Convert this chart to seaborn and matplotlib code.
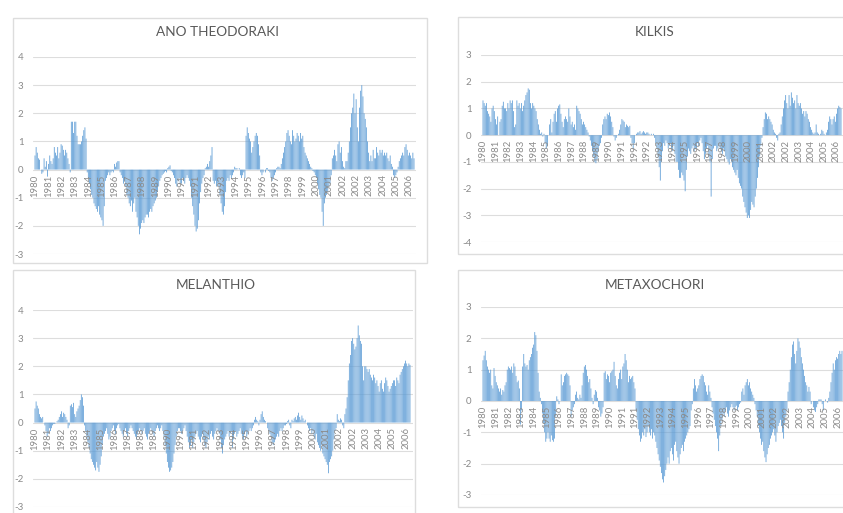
import numpy as np
import pandas as pd
import matplotlib
matplotlib.use("Agg")
import matplotlib.pyplot as plt
import seaborn as sns
from matplotlib.patches import Rectangle

sns.set_theme(style="white")
plt.rcParams["font.family"] = ["Lato", "DejaVu Sans"]
plt.rcParams["axes.unicode_minus"] = False

# Category labels along the zero line (one every ~12 months)
year_labels = ["1980", "1981", "1982", "1983", "1984", "1985", "1986", "1987",
               "1988", "1989", "1990", "1991", "1991", "1992", "1993", "1994",
               "1995", "1996", "1997", "1998", "1999", "2000", "2001", "2002",
               "2002", "2003", "2004", "2005", "2006"]

# Monthly index values per station
ano_theodoraki = [
    0.5, 0.8, 0.6, 0.4, 0.35, 0.0, -0.15, -0.1, 0.4, 0.1, 0.3, -0.25, 0.2, 0.5,
    0.3, 0.2, 0.4, 0.8, 0.6, 0.5, 0.8, 0.4, 0.6, 0.9, 0.85, 0.7, 0.5, 0.7, 0.6, 0.4, 0.2,
    -0.1, 1.7, 1.7, 1.3, 1.7, 1.7, 1.2, 0.9, 0.9, 0.9, 1.0, 1.2, 1.4, 1.5, 1.1,
    -0.1, -0.3, -0.5, -0.7, -0.9, -1.0, -1.2, -1.3, -1.4, -1.5, -1.3, -1.6, -1.7, -1.8, -2.0, -1.3, -0.4,
    -0.3, -0.2, -0.1, -0.2, -0.1, -0.05, -0.1, 0.2, 0.1, 0.25, 0.3, 0.3,
    -0.1, -0.2, -0.3, -0.5, -0.4, -0.6, -0.9, -1.0, -1.2, -1.3, -1.1, -1.5, -1.2, -1.0,
    -1.5, -1.7, -2.0, -2.3, -2.1, -1.9, -1.8, -1.9, -1.7, -1.6, -1.6, -1.7, -1.5, -1.4, -1.5, -1.3, -1.2, -1.1,
    -1.0, -0.8, -0.6, -0.4, -0.3, -0.2, -0.15, -0.1, -0.05, -0.1, 0.05, 0.1, 0.15, -0.05, -0.1, -0.2,
    -0.3, -0.5, -0.6, -0.4, -0.3, -0.5, -0.5, -0.3, -0.4, -0.5, -0.3, -0.2, -0.3, -0.4,
    -0.6, -1.0, -1.3, -1.6, -2.0, -2.2, -2.1, -1.8, -1.2, -0.8, -0.5,
    -0.3, -0.2, 0.05, 0.1, 0.2, 0.1, 0.3, 0.5, 0.8,
    -0.4, -0.5, -0.4, -0.6, -0.5, -0.6, -0.9, -1.2, -1.5, -1.6, -1.3, -0.8, -0.4, -0.3, -0.4, -0.2, -0.3, -0.2, -0.1,
    0.1, 0.05, 0.05, 0.0, 0.05, -0.2, -0.3, -0.2, -0.1, -0.3,
    1.2, 1.5, 1.3, 1.1, 1.0, 0.6, 0.8, 1.0, 1.2, 1.3, 1.2, 0.9, 0.5,
    -0.1, -0.2, -0.1, 0.0, -0.1, 0.05, 0.05, -0.05, -0.1, -0.3, -0.4, -0.3, -0.2, -0.1, 0.05, 0.1, 0.1, 0.05,
    0.2, 0.4, 0.6, 0.8, 1.0, 1.3, 1.4, 1.2, 1.0, 0.9, 1.4, 1.2, 1.0, 1.1, 1.3, 1.2, 1.0, 1.3, 1.1, 1.2,
    0.8, 0.6, 0.5, 0.4, 0.3, 0.2, 0.1, 0.05, -0.05, -0.1,
    -0.2, -0.3, -0.5, -0.7, -0.9, -1.0, -1.5, -2.0, -1.2, -1.0, -0.9, -0.8, -0.6, -0.5, -0.2,
    0.4, 0.5, 0.7, 0.5, 0.3, 0.9, 1.0, 0.6, 0.8, 0.3, 0.1, 0.05, 0.3,
    0.3, 0.6, 1.0, 1.5, 2.0, 2.2, 2.7, 2.0, 2.5, 1.5, 1.0, 2.2, 2.8, 3.0, 2.6, 2.0, 1.8, 1.5, 1.0, 0.6, 0.3,
    0.5, 0.3, 0.7, 0.4, 0.4, 0.8, 0.6, 0.5, 0.7, 0.6, 0.7, 0.5, 0.6, 0.5, 0.6, 0.4, 0.3, 0.5, 0.2, 0.1,
    -0.2, -0.3, -0.2, -0.1,
    0.1, 0.3, 0.4, 0.5, 0.6, 0.5, 0.8, 0.9, 0.7, 0.5, 0.6, 0.5, 0.4, 0.6, 0.4,
]

kilkis = [
    1.3, 1.2, 1.1, 1.2, 0.9, 0.8, 0.7, 0.5, 1.0, 1.1, 0.9, 0.6, 0.4, 0.7,
    0.0, 0.5, 0.6, 1.1, 1.25, 1.0, 1.0, 0.9, 1.2, 1.0, 1.3, 1.2, 1.3, 0.9, 0.3,
    0.4, 1.3, 1.1, 1.2, 1.0, 1.2, 0.9, 1.1, 1.3, 1.5, 1.6, 1.75, 1.7, 1.2,
    1.0, 1.2, 1.1, 1.0, 0.9, 0.6, 0.4, 0.2, 0.05, 0.1, -0.05, 0.05,
    -0.3, -0.5, -0.4, 0.0, 0.4, 0.6, 0.1, 0.5, 0.8, 0.9, 0.5,
    1.0, 1.1, 1.15, 0.8, 0.5, 0.3, 0.6, 0.7, 0.6, 0.5, 1.0, 0.7, 0.4, 0.5, 0.3, 0.4, 0.2,
    1.1, 1.0, 0.9, 0.8, 0.6, 0.4, 0.5, 0.4, 0.3, 0.2, 0.1, -0.05, -0.2,
    -0.4, -0.6, -0.8, -1.0, -1.05, -0.9, -0.6, -0.4, -0.3, -0.1,
    0.4, 0.6, 0.7, 0.6, 0.8, 0.75, 0.85, 0.7, 0.5, 0.3,
    -0.05, -0.2, -0.1, 0.0, 0.05,
    0.2, 0.4, 0.6, 0.55, 0.5, 0.3, 0.4, 0.35, 0.3, 0.35,
    -0.1, -0.3, -0.5, -0.3, 0.0, 0.05, 0.1, 0.1, 0.15, 0.05,
    0.1, 0.15, 0.1, 0.05, 0.1, 0.1, 0.05, 0.0, 0.05, 0.0, 0.05,
    -0.1, -0.3, -0.5, -0.8, -1.2, -1.7, -1.0, -0.6,
    -0.3, -0.4, -0.2, -0.3, -0.5, -0.4, -0.3, -0.5, -0.6, -0.4, -0.7, -1.0,
    -1.0, -1.3, -1.6, -1.6, -1.4, -1.5, -1.7, -2.1, -1.3, -0.8,
    -0.5, -0.6, -0.7, -0.5, -0.4, -0.6, -0.5, -0.5, -0.3, -0.4, -0.2, -0.1,
    -0.3, -0.6, -0.9, -0.7, -0.5, -0.4, -0.8, -1.0, -2.3, -0.9, -0.5, -0.4,
    -0.4, -0.6, -0.5, -0.4, -0.5, -0.6, -0.7, -0.5, -0.6, -0.8, -0.9, -1.0, -1.1, -0.9, -1.0,
    -1.2, -1.3, -1.4, -1.5, -1.3, -1.6, -1.8,
    -1.9, -2.0, -2.3, -2.5, -2.7, -2.9, -3.1, -3.0, -3.1, -2.8, -2.5, -2.6, -2.7, -2.3, -2.0, -1.6, -1.2, -0.8,
    -0.4, -0.1,
    0.3, 0.6, 0.85, 0.8, 0.6, 0.7, 0.6, 0.5, 0.4, 0.2, 0.1, 0.05,
    -0.1, -0.2, 0.05, 0.1,
    0.4, 0.7, 1.0, 1.3, 1.5, 1.2, 1.0, 1.5, 1.1, 1.6, 1.4, 1.2, 1.3, 1.0, 1.5, 1.2, 1.1, 1.2,
    1.0, 0.8, 0.9, 0.7, 0.9, 0.8, 0.6, 0.5, 0.3, 0.2,
    0.1, 0.05, 0.1, 0.4, 0.1, 0.05, 0.0,
    0.05, 0.2, 0.15, 0.05, 0.0, 0.1, 0.2, 0.5, 0.7, 0.6, 0.4, 0.6,
    0.7, 0.5, 0.8, 1.0, 1.1, 1.05, 1.0,
]

melanthio = [
    0.5, 0.75, 0.6, 0.5, 0.3, 0.2, 0.15, 0.2, 0.0,
    -0.1, -0.3, -0.5, -0.4, -0.2, -0.3, -0.2, -0.1, -0.05, -0.05, 0.0, 0.05,
    0.1, 0.2, 0.3, 0.4, 0.2, 0.35, 0.3, 0.2, 0.1, -0.2, -0.1,
    0.6, 0.65, 0.55, 0.7, 0.3, 0.2, 0.4, 0.5, 0.6, 0.8, 1.0, 0.9, 0.6,
    -0.1, -0.3, -0.5, -0.7, -0.9, -1.1, -1.3, -1.4, -1.5, -1.6, -1.7, -1.4, -1.6, -1.75, -1.5, -1.2,
    -0.8, -0.5, -0.4, -0.3,
    -0.2, -0.4, -0.6, -0.5, -0.3, -0.2, -0.1, -0.3, -0.4, -0.2, -0.1, -0.05,
    -0.2, -0.3, -0.4, -0.5, -0.3, -0.2, -0.4, -0.5, -0.3, -0.2, -0.1, -0.2, -0.3, -0.4, -0.5, -0.6,
    -0.4, -0.3, -0.2, -0.3, -0.4, -0.3, -0.2, -0.4, -0.5, -0.6, -0.4, -0.3, -0.2, -0.3, -0.4, -0.5,
    -0.3, -0.2, -0.1, -0.2, -0.3, -0.2, -0.1,
    -0.3, -0.5, -0.8, -1.1, -1.4, -1.6, -1.75, -1.7, -1.6, -1.4, -1.1, -0.8, -0.5, -0.3, -0.2,
    -0.2, -0.3, -0.4, -0.3, -0.2, -0.1, -0.3, -0.5, -0.7, -0.9, -0.8, -0.6, -0.9, -0.7, -0.5, -0.4,
    -0.3, -0.5, -0.6, -0.7, -0.5, -0.4, -0.6, -0.8, -0.9, -0.7, -0.5, -0.6, -0.4, -0.3, -0.5, -0.6,
    -0.4, -0.3, -0.2, -0.3,
    -0.4, -0.6, -0.9, -1.1, -0.8, -0.6, -0.5, -0.4, -0.3, -0.5, -0.4, -0.3, -0.9, -0.6, -0.4, -0.3,
    -0.5, -0.4, -0.3, -0.2, -0.4, -0.5, -0.6, -0.4, -0.3, -0.5, -0.4, -0.3, -0.2, -0.3, -0.2, -0.1,
    0.1, 0.2, 0.1, 0.05, -0.1, 0.1, 0.3, 0.4, 0.2, 0.1, 0.05, 0.0,
    -0.2, -0.3, -0.4, -0.5, -0.7, -0.8, -0.7, -0.6, -0.5, -0.4, -0.5, -0.3, -0.2, -0.3, -0.2, -0.1,
    -0.1, -0.05, 0.05, 0.1, -0.1, -0.2,
    0.1, 0.05, 0.15, 0.2, 0.1, 0.25, 0.35, 0.2, 0.1, 0.25, 0.15, 0.05, 0.1, 0.0,
    -0.1, -0.2, -0.3, -0.2, -0.4, -0.3, -0.5, -0.6, -0.4, -0.7, -0.8, -0.9, -1.0, -0.8, -1.1,
    -1.2, -1.3, -1.4, -1.5, -1.8, -1.4, -1.3, -1.2, -1.0, -0.6, -0.3, -0.2,
    0.3, 0.1, 0.05, 0.15, 0.1, -0.1, -0.2,
    0.3, 0.5, 0.9, 1.5, 2.1, 2.4, 2.9, 3.0, 2.8, 2.6, 2.7, 3.0, 3.45, 3.1, 2.9, 2.8, 2.0, 1.5,
    2.0, 2.0, 1.9, 1.8, 1.9, 1.7, 1.6, 1.5, 1.7, 1.6, 1.4, 1.5, 1.3, 1.1, 1.4, 1.5, 1.2, 1.1,
    1.4, 1.6, 1.5, 1.3, 1.1, 1.2, 1.3, 1.4, 1.5, 1.5, 1.3, 1.6, 1.5, 1.4, 1.7, 1.8, 1.9, 2.0,
    2.1, 2.2, 2.1, 2.0, 2.1, 2.05,
]

metaxochori = [
    1.3, 1.45, 1.6, 1.3, 1.1, 1.0, 0.9, 1.0, 0.5, 0.4, 1.05, 0.8, 0.6,
    0.5, 0.4, 0.3, 0.4, 0.2, 0.35, 0.3, 0.5,
    0.6, 1.0, 1.1, 1.05, 1.0, 1.1, 0.9, 1.2, 1.1, 0.8, 0.6, 0.65, 0.4, -0.75, -0.3,
    1.1, 1.5, 1.2, 1.1, 1.15, 1.0, 1.3, 1.4, 1.5, 1.7, 1.8, 2.2, 2.1, 1.6, 0.9, 0.3, 0.1,
    -0.1, -0.4, -0.7, -1.0, -1.3, -1.2, -1.0, -1.2, -1.3, -1.1, -1.25, -1.3, -1.2, -0.5,
    0.15, 0.05, -0.1, 0.0,
    0.85, 0.5, 0.6, 0.8, 0.85, 0.9, 0.85, 0.8, 0.5, -0.5, -0.3, -0.2, -0.1,
    0.2, 0.3, 0.1, 0.05, 0.2, 0.1,
    0.5, 0.9, 1.1, 1.15, 1.0, 0.8, 0.6, 0.7, 0.4,
    0.1, -0.1, 0.2, 0.35, 0.3, 0.1, -0.2, -0.3, -0.5, -0.4, -0.2,
    0.9, 0.95, 0.7, 0.85, 0.8, 0.6, 0.9, 0.95, 1.0, 1.25, 0.8, 0.5,
    0.4, 0.7, 0.9, 1.0, 0.7, 1.1, 1.2, 1.5, 1.3, 1.0,
    0.6, 0.8, 0.7, 0.75, 0.8, 0.6, 0.4,
    -0.3, -0.6, -0.9, -1.1, -1.3, -1.2, -1.0, -1.1, -0.9, -1.15, -1.0, -0.8,
    -1.0, -1.1, -0.9, -1.2, -1.0, -1.1, -1.3, -1.5, -1.7, -1.9, -2.1, -2.3, -2.5, -2.6, -2.4, -2.2, -2.0,
    -1.8, -2.0, -1.6, -1.5, -1.7, -1.9, -1.4, -1.3, -1.6, -1.8, -2.0, -1.7, -1.5, -1.4, -1.6,
    -1.3, -1.2, -1.1, -1.0, -0.9, -0.8, -0.3, -0.1,
    0.4, 0.7, 0.5, 0.3, 0.4, 0.5, 0.7, 0.8, 0.85, 0.8, 0.6, 0.5, 0.3, 0.2, 0.5, 0.3, 0.1,
    -0.2, -0.4, -0.6, -0.8, -1.0, -1.2, -1.6, -1.1, -0.8, -0.6, -0.4, -0.5, -0.3, -0.2, -0.4, -0.5,
    -0.3, -0.2, -0.1, -0.2, -0.3, -0.2, -0.15, -0.3, -0.2, -0.1, -0.05,
    0.3, 0.4, 0.2, 0.5, 0.6, 0.7, 0.5, 0.6, 0.4, 0.3, 0.2, 0.1,
    -0.1, -0.3, -0.5, -0.8, -1.0, -1.2, -1.4, -1.3, -1.6, -1.8, -1.95, -1.7, -1.5, -1.4, -1.2,
    -1.1, -1.0, -0.9, -1.1, -1.3, -1.0, -0.8, -0.7, -0.6, -0.8, -1.0, -1.2, -0.7, -0.5, -0.3,
    0.3, 0.6, 1.0, 1.4, 1.8, 1.9, 1.5, 1.2, 1.6, 2.0, 1.9, 1.7, 1.4, 1.2, 1.0, 0.8, 0.6, 0.5,
    0.3, 0.45, 0.3, -0.1, 0.0,
    -0.2, -0.3, -0.35, -0.2, -0.1, 0.05, 0.05, 0.05, -0.1, -0.3, 0.0, 0.05, 0.0, -0.05,
    0.1, 0.3, 0.6, 0.9, 1.2, 1.0, 1.3, 1.4, 1.35, 1.5, 1.6, 1.5, 1.6,
]

W, H = 843, 513
fig = plt.figure(figsize=(W / 100, H / 100), dpi=100)
fig.patch.set_facecolor("white")

BAR = "#5b9bd5"
GRID = "#dddddd"
TICK_TEXT = "#8a8a8a"
TITLE_TEXT = "#595959"


def chart_frame(x0, y0, x1, y1):
    fig.add_artist(Rectangle((x0 / W, 1 - y1 / H), (x1 - x0) / W, (y1 - y0) / H,
                             transform=fig.transFigure, fill=False,
                             edgecolor=GRID, linewidth=1.0))


def station_panel(title, values, first_px, last_px, right_px, top_px, bottom_px,
                  ylim, title_x, title_y):
    n = len(values)
    step = (last_px - first_px) / (n - 1)
    left_px = first_px - 1.5 * step
    ax = fig.add_axes([left_px / W, 1 - bottom_px / H,
                       (right_px - left_px) / W, (bottom_px - top_px) / H])
    df = pd.DataFrame({"month": np.arange(n), "value": values})
    sns.barplot(data=df, x="month", y="value", color=BAR, saturation=1,
                width=0.7, linewidth=0, errorbar=None, ax=ax)
    # thin bars: keep sub-pixel widths instead of snapping to whole pixels
    for bar in ax.patches:
        bar.set_snap(False)
    ax.set_xlim(-1.5, (right_px - first_px) / step)
    ax.set_ylim(*ylim)
    ax.set_yticks(range(ylim[0], ylim[1] + 1))
    ax.set_xticks([])
    ax.set_xlabel("")
    ax.set_ylabel("")
    ax.patch.set_alpha(0)
    for s in ax.spines.values():
        s.set_visible(False)
    ax.yaxis.grid(True, color=GRID, linewidth=0.8)
    ax.set_axisbelow(True)
    ax.tick_params(axis="y", length=0, pad=7, labelsize=7, labelcolor=TICK_TEXT)
    positions = np.linspace(0, n - 5, len(year_labels))
    for pos, lab in zip(positions, year_labels):
        ax.annotate(lab, (pos, 0), xytext=(0, -3.5), textcoords="offset points",
                    rotation=90, ha="center", va="top", fontsize=6.8,
                    color=TICK_TEXT, zorder=5, annotation_clip=False)
    fig.text(title_x / W, 1 - title_y / H, title, ha="center", va="center",
             fontsize=9.8, color=TITLE_TEXT)
    return ax


chart_frame(13, 18, 427, 263)
chart_frame(458, 17, 900, 254)
chart_frame(13, 270, 415, 560)
chart_frame(458, 270, 900, 507)

station_panel("ANO THEODORAKI", ano_theodoraki, 35, 414, 416, 57, 254, (-3, 4), 217, 32)
station_panel("KILKIS", kilkis, 483, 841, 846, 55, 242, (-4, 3), 655, 32)
station_panel("MELANTHIO", melanthio, 35, 410, 413, 310, 507, (-3, 4), 216, 285)
station_panel("METAXOCHORI", metaxochori, 483, 842, 846, 307, 495, (-3, 3), 655, 285)

fig.savefig("out.png", dpi=100)
